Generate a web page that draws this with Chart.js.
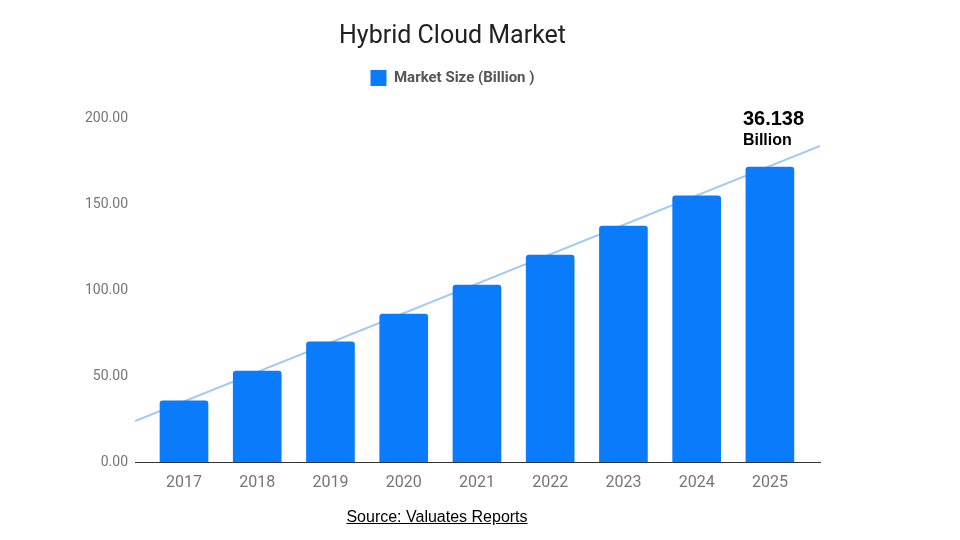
<!DOCTYPE html>
<html>
<head>
<meta charset="utf-8">
<script src="https://cdn.jsdelivr.net/npm/chart.js@4/dist/chart.umd.min.js"></script>
<style>
  html, body { margin: 0; padding: 0; background: #fff; }
  #wrap { position: relative; width: 960px; height: 540px; }
  #source { position: absolute; left: 0; width: 874px; top: 508px; text-align: center;
            font-family: Arial, "Liberation Sans", sans-serif; font-size: 16px; color: #000; text-decoration: underline; }
</style>
</head>
<body>
<div id="wrap">
  <canvas id="c" width="960" height="540"></canvas>
  <div id="source">Source: Valuates Reports</div>
</div>
<script>
const categories = ['2017', '2018', '2019', '2020', '2021', '2022', '2023', '2024', '2025'];
const marketSize = [35.5, 52.9, 69.8, 86.0, 102.9, 120.3, 137.2, 154.7, 171.5];
const trendX = [-0.669, 8.684];
const trendY = [23.8, 183.7];
const yTicks = [0, 50, 100, 150, 200];
const seriesLabel = 'Market Size (Billion )';
const annotationLines = ['36.138', 'Billion'];

const barColor = '#0a7bfb';
const trendColor = '#9fcaf7';

const annotationPlugin = {
  id: 'annot',
  afterInit(chart) {
    if (chart.legend) {
      const origFit = chart.legend.fit;
      chart.legend.fit = function () {
        origFit.call(this);
        this.height += 22;
      };
    }
  },
  afterDatasetsDraw(chart) {
    const meta = chart.getDatasetMeta(0);
    const bar = meta.data[meta.data.length - 1];
    const ctx = chart.ctx;
    ctx.save();
    ctx.fillStyle = '#000';
    ctx.textAlign = 'left';
    ctx.textBaseline = 'middle';
    ctx.font = 'bold 20px Arial, "Liberation Sans", sans-serif';
    ctx.fillText(annotationLines[0], bar.x - 27, 119);
    ctx.font = 'bold 16px Arial, "Liberation Sans", sans-serif';
    ctx.fillText(annotationLines[1], bar.x - 27, 141);
    ctx.restore();
  }
};

new Chart(document.getElementById('c'), {
  data: {
    datasets: [
      {
        type: 'bar',
        label: seriesLabel,
        data: categories.map((c, i) => ({ x: i, y: marketSize[i] })),
        backgroundColor: barColor,
        borderRadius: 3,
        borderSkipped: 'bottom',
        barThickness: 48,
        order: 1
      },
      {
        type: 'line',
        label: 'trend',
        data: trendX.map((x, i) => ({ x: x, y: trendY[i] })),
        borderColor: trendColor,
        borderWidth: 2,
        pointRadius: 0,
        fill: false,
        order: 2
      }
    ]
  },
  options: {
    responsive: false,
    animation: false,
    layout: { padding: { top: 22, left: 85, right: 140, bottom: 0 } },
    plugins: {
      title: {
        display: true,
        text: 'Hybrid Cloud Market',
        color: '#212121',
        font: { family: 'Roboto, Arial, sans-serif', size: 25, weight: 'normal' },
        padding: { top: 0, bottom: 8 }
      },
      legend: {
        display: true,
        labels: {
          filter: (item) => item.datasetIndex === 0,
          boxWidth: 16,
          boxHeight: 16,
          color: '#555',
          font: { family: 'Roboto, Arial, sans-serif', size: 15, weight: 'bold' },
          padding: 10
        }
      },
      tooltip: { enabled: false }
    },
    scales: {
      x: {
        type: 'linear',
        offset: false,
        min: trendX[0],
        max: trendX[1],
        afterBuildTicks: (scale) => { scale.ticks = categories.map((c, i) => ({ value: i })); },
        afterFit: (scale) => { scale.height = 78; },
        ticks: {
          callback: (v) => categories[v],
          color: '#757575',
          font: { family: 'Roboto, Arial, sans-serif', size: 16 },
          padding: 11,
          maxRotation: 0,
          autoSkip: false
        },
        grid: { display: false, drawTicks: false, offset: false },
        border: { display: true, color: '#333', width: 1 }
      },
      y: {
        min: 0,
        max: 200,
        afterBuildTicks: (scale) => { scale.ticks = yTicks.map(v => ({ value: v })); },
        afterFit: (scale) => { scale.width = 50; },
        ticks: {
          callback: (v) => v.toFixed(2),
          color: '#757575',
          font: { family: 'Roboto, Arial, sans-serif', size: 14 },
          padding: 7
        },
        grid: { display: false, drawTicks: false },
        border: { display: false }
      }
    }
  },
  plugins: [annotationPlugin]
});
</script>
</body>
</html>
